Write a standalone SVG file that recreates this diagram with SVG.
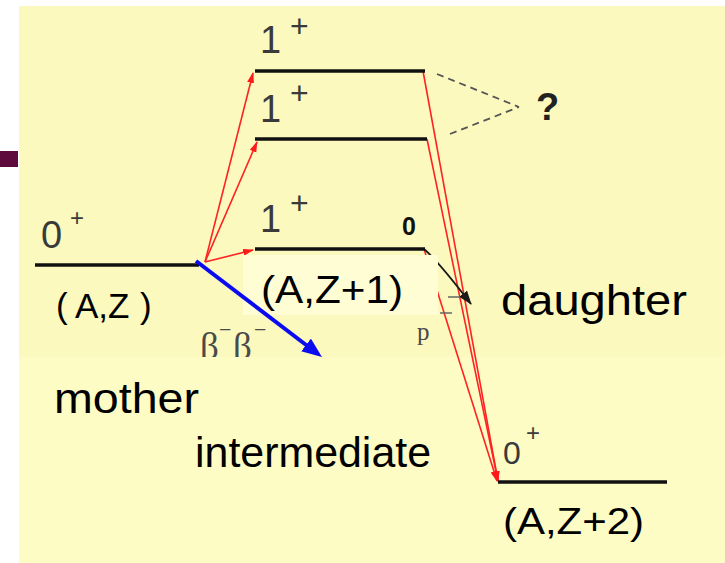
<svg xmlns="http://www.w3.org/2000/svg" width="725" height="563" viewBox="0 0 725 563">
<defs>
<marker id="ah-red" markerUnits="userSpaceOnUse" markerWidth="12" markerHeight="8" refX="10" refY="3.5" orient="auto"><path d="M0,0 L11,3.5 L0,7 z" fill="#ff1a1a"/></marker>
<marker id="ah-blue" markerUnits="userSpaceOnUse" markerWidth="22" markerHeight="18" refX="10" refY="8" orient="auto"><path d="M0,0 L20,8 L0,16 z" fill="#0b0bf0"/></marker>
<marker id="ah-black" markerUnits="userSpaceOnUse" markerWidth="16" markerHeight="12" refX="13" refY="5" orient="auto"><path d="M0,0 L14,5 L0,10 z" fill="#1a1a1a"/></marker>
</defs>
<style>
.lvl{stroke:#111;stroke-width:3.5;fill:none}
.red{stroke:#ff2222;stroke-width:1.6;fill:none;marker-end:url(#ah-red)}
.dash{stroke:#555;stroke-width:1.8;fill:none;stroke-dasharray:7 5}
.st{font-family:"Liberation Sans",Arial,sans-serif;fill:#3a3a3a}
.lbl{font-family:"Liberation Sans",Arial,sans-serif;fill:#000}
.greek{font-family:"Liberation Serif","Times New Roman",serif;fill:#4a4a4a}
</style>
<rect width="725" height="563" fill="#ffffff"/>
<rect x="19" y="6" width="706" height="557" fill="#FBF9BE"/>
<rect x="0" y="151" width="18" height="16" fill="#5E0A3C"/>
<text class="greek" y="359" font-size="37"><tspan x="200">β</tspan><tspan x="219" y="337" font-size="22">−</tspan><tspan x="233" y="359">β</tspan><tspan x="254" y="337" font-size="22">−</tspan></text>
<rect x="19" y="357" width="706" height="206" fill="#FDFCC4"/>

<g id="connectors">
<path class="red" d="M205,262 L253,73"/>
<path class="red" d="M205,262 L257,142"/>
<path class="red" d="M205,262 L253,250"/>
<path class="red" d="M423,71 L498,481"/>
<path class="red" d="M427,139 L498,481"/>
<path class="red" d="M424,249 L497,481"/>
<path d="M424,249 Q438,261 471,304" stroke="#1a1a1a" stroke-width="1.8" fill="none" marker-end="url(#ah-black)"/>
<path class="dash" d="M437,74 L519,107 M450,134 L519,107"/>
<path d="M448,297 L460,297 M440,313 L452,313" stroke="#666" stroke-width="1.5"/>
</g>

<g id="level-top">
<line class="lvl" x1="255" y1="71" x2="425" y2="71"/>
<text class="st" x="260" y="53" font-size="38">1</text>
<text class="st" x="290" y="37" font-size="32">+</text>
</g>
<g id="level-second">
<line class="lvl" x1="255" y1="139" x2="427" y2="139"/>
<text class="st" x="260" y="122" font-size="38">1</text>
<text class="st" x="290" y="104" font-size="32">+</text>
</g>
<g id="level-third">
<line class="lvl" x1="255" y1="249" x2="425" y2="249"/>
<text class="st" x="260" y="232" font-size="38">1</text>
<text class="st" x="290" y="214" font-size="32">+</text>
<text x="402" y="235" font-size="25" font-weight="bold" font-family="Liberation Sans, Arial, sans-serif" fill="#111">0</text>
</g>
<g id="level-mother">
<line class="lvl" x1="35" y1="265" x2="199" y2="265"/>
<text class="st" x="41" y="248" font-size="38">0</text>
<text class="st" x="70" y="226" font-size="24">+</text>
<text class="lbl" y="318" font-size="35"><tspan x="56">(</tspan><tspan x="75">A,Z</tspan><tspan x="140">)</tspan></text>
</g>
<g id="level-daughter">
<line class="lvl" x1="498" y1="482" x2="667" y2="482"/>
<text class="st" x="503" y="464" font-size="32">0</text>
<text class="st" x="526" y="441" font-size="24">+</text>
<text class="lbl" x="503" y="534" font-size="37" textLength="141" lengthAdjust="spacingAndGlyphs">(A,Z+2)</text>
</g>
<g id="question">
<text x="536" y="120" font-size="38" font-weight="bold" font-family="Liberation Sans, Arial, sans-serif" fill="#222">?</text>
</g>
<g id="intermediate-label">
<rect x="243" y="255" width="195" height="60" fill="#FEFDD3"/>
<text class="lbl" x="261" y="303" font-size="39" textLength="142" lengthAdjust="spacingAndGlyphs">(A,Z+1)</text>
</g>
<g id="blue-arrow">
<line x1="196" y1="261" x2="314" y2="351" stroke="#0b0bf0" stroke-width="4" marker-end="url(#ah-blue)"/>
</g>
<g id="p-label">
<text class="greek" x="417" y="340" font-size="25">p</text>
</g>
<g id="texts">
<text class="lbl" x="501" y="315" font-size="43" textLength="186" lengthAdjust="spacingAndGlyphs">daughter</text>
<text class="lbl" x="54" y="413" font-size="42" textLength="145" lengthAdjust="spacingAndGlyphs">mother</text>
<text class="lbl" x="195" y="467" font-size="42" textLength="236" lengthAdjust="spacingAndGlyphs">intermediate</text>
</g>
</svg>
